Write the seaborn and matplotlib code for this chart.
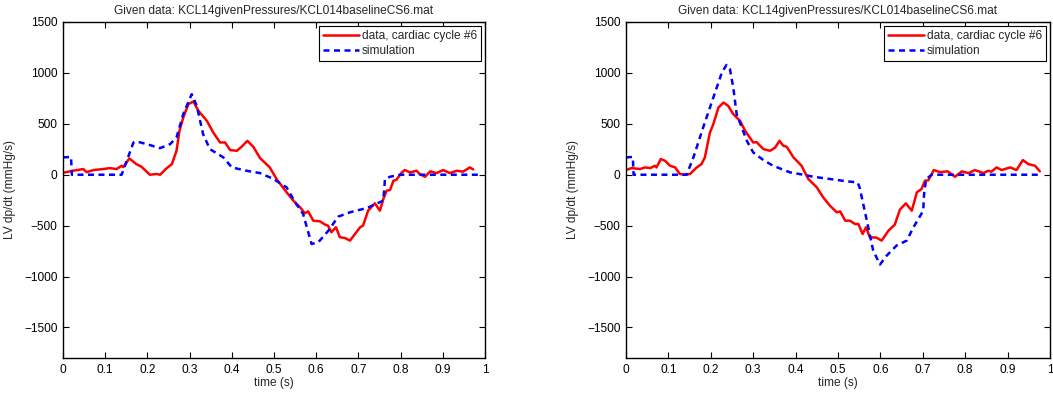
import numpy as np
import pandas as pd
import matplotlib
matplotlib.use("Agg")
import matplotlib.pyplot as plt
import seaborn as sns

title_text = "Given data: KCL14givenPressures/KCL014baselineCS6.mat"
data_label = "data, cardiac cycle #6"
sim_label = "simulation"
yticks = [-1500, -1000, -500, 0, 500, 1000, 1500]
xticks = [0, 0.1, 0.2, 0.3, 0.4, 0.5, 0.6, 0.7, 0.8, 0.9, 1]
xtick_labels = ["0", "0.1", "0.2", "0.3", "0.4", "0.5", "0.6", "0.7", "0.8", "0.9", "1"]

# left panel, measured dp/dt
left_data_t = [0.0, 0.005, 0.024, 0.048, 0.056, 0.072, 0.096, 0.111, 0.127, 0.139, 0.143,
               0.157, 0.174, 0.186, 0.206, 0.222, 0.23, 0.246, 0.258, 0.269, 0.276, 0.285,
               0.297, 0.309, 0.321, 0.341, 0.356, 0.372, 0.384, 0.396, 0.412, 0.423, 0.437,
               0.451, 0.467, 0.49, 0.506, 0.53, 0.546, 0.562, 0.573, 0.581, 0.593, 0.609,
               0.621, 0.628, 0.636, 0.647, 0.656, 0.668, 0.68, 0.692, 0.704, 0.711, 0.723,
               0.739, 0.751, 0.759, 0.767, 0.775, 0.783, 0.79, 0.803, 0.81, 0.822, 0.838,
               0.845, 0.858, 0.87, 0.885, 0.901, 0.917, 0.933, 0.948, 0.964, 0.972]
left_data_y = [20, 23, 39, 56, 25, 46, 56, 65, 56, 88, 75,
               160, 104, 78, 0, 7, 0, 65, 104, 235, 431, 562,
               693, 719, 627, 529, 415, 317, 317, 242, 235, 274, 333,
               274, 163, 72, -42, -173, -255, -320, -379, -360, -451, -458,
               -490, -500, -565, -516, -614, -621, -647, -582, -516, -500, -353,
               -281, -353, -239, -157, -150, -59, -50, 23, 46, 23, 39,
               7, -20, 33, 16, 46, 16, 39, 30, 72, 52]

# left panel, simulation
left_sim_t = [0.0, 0.019, 0.021, 0.139, 0.167, 0.174, 0.198, 0.23, 0.254, 0.269, 0.285,
              0.305, 0.317, 0.332, 0.348, 0.38, 0.4, 0.435, 0.467, 0.498, 0.53, 0.55,
              0.569, 0.589, 0.605, 0.629, 0.652, 0.68, 0.72, 0.759, 0.763, 0.775, 0.798, 0.983]
left_sim_y = [170, 175, 0, 0, 317, 327, 301, 261, 301, 366, 595,
              791, 676, 399, 252, 170, 72, 39, 16, -40, -125, -271,
              -386, -680, -663, -549, -412, -369, -327, -255, -42, -20, 0, 0]

# right panel, measured dp/dt
right_data_t = [0.0, 0.013, 0.033, 0.045, 0.057, 0.068, 0.072, 0.082, 0.092, 0.104, 0.116,
                0.127, 0.139, 0.151, 0.167, 0.178, 0.186, 0.198, 0.206, 0.218, 0.23, 0.241,
                0.253, 0.269, 0.281, 0.3, 0.308, 0.324, 0.34, 0.352, 0.362, 0.371, 0.379,
                0.395, 0.414, 0.43, 0.45, 0.465, 0.481, 0.497, 0.505, 0.517, 0.528, 0.54,
                0.548, 0.558, 0.566, 0.575, 0.591, 0.603, 0.619, 0.634, 0.646, 0.66, 0.674,
                0.686, 0.697, 0.705, 0.713, 0.726, 0.74, 0.759, 0.776, 0.792, 0.808, 0.823,
                0.843, 0.854, 0.862, 0.874, 0.886, 0.906, 0.921, 0.936, 0.949, 0.965, 0.976]
right_data_y = [46, 65, 56, 72, 65, 88, 72, 154, 137, 88, 72,
                7, 0, 7, 72, 104, 170, 415, 497, 660, 709, 676,
                595, 529, 431, 317, 320, 252, 235, 268, 333, 284, 275,
                170, 88, -42, -124, -222, -304, -369, -360, -451, -451, -484,
                -484, -582, -516, -614, -618, -647, -549, -490, -343, -281, -353,
                -173, -140, -59, -55, 46, 26, 33, -20, 33, 16, 46,
                16, 39, 30, 72, 46, 72, 46, 144, 104, 88, 33]

# right panel, simulation
right_sim_t = [0.0, 0.016, 0.018, 0.143, 0.159, 0.182, 0.206, 0.226, 0.237, 0.245, 0.253,
               0.261, 0.273, 0.285, 0.3, 0.324, 0.347, 0.387, 0.418, 0.442, 0.481, 0.521,
               0.546, 0.551, 0.568, 0.583, 0.599, 0.615, 0.638, 0.662, 0.678, 0.701, 0.703,
               0.708, 0.721, 0.976]
right_sim_y = [170, 175, 0, 0, 170, 464, 758, 1003, 1078, 1040, 856,
               595, 464, 333, 219, 144, 88, 23, 0, -20, -42, -65,
               -75, -124, -451, -745, -882, -794, -696, -647, -516, -353, -190,
               -42, 0, 0]

panels = [
    (left_data_t, left_data_y, left_sim_t, left_sim_y),
    (right_data_t, right_data_y, right_sim_t, right_sim_y),
]

sns.set_style("ticks")
plt.rcParams['font.family'] = ['Liberation Sans', 'DejaVu Sans']
fs = 8.6

W, H = 1053, 394
fig = plt.figure(figsize=(W / 100, H / 100), dpi=100)
boxes = [(63, 485), (626, 1050)]
top_px, bot_px = 22, 358

for (x0, x1), (dt, dy, st, sy) in zip(boxes, panels):
    ax = fig.add_axes([x0 / W, 1 - bot_px / H, (x1 - x0) / W, (bot_px - top_px) / H])
    df_data = pd.DataFrame({"t": dt, "y": dy})
    df_sim = pd.DataFrame({"t": st, "y": sy})
    sns.lineplot(data=df_data, x="t", y="y", ax=ax, color="#ff0000", linewidth=1.8,
                 label=data_label, sort=False, estimator=None)
    sns.lineplot(data=df_sim, x="t", y="y", ax=ax, color="#0000ff", linewidth=1.8,
                 label=sim_label, sort=False, estimator=None)
    ax.lines[1].set_dashes((2.4, 1.8))
    ax.set_xlim(0, 1)
    ax.set_ylim(-1800, 1500)
    ax.set_xticks(xticks)
    ax.set_xticklabels(xtick_labels)
    ax.set_yticks(yticks)
    ax.tick_params(direction="in", length=4, width=0.8, top=True, right=True,
                   labelsize=fs, colors="black", pad=4)
    for sp in ax.spines.values():
        sp.set_visible(True)
        sp.set_linewidth(1.0)
        sp.set_color("black")
    ax.set_xlabel("time (s)", fontsize=fs, labelpad=1)
    ax.set_ylabel("LV dp/dt (mmHg/s)", fontsize=fs, labelpad=6)
    ax.set_title(title_text, fontsize=fs, pad=6)
    leg = ax.legend(loc="upper right", fontsize=fs, frameon=True, fancybox=False,
                    edgecolor="black", framealpha=1, borderaxespad=0.3,
                    handlelength=3.0, handletextpad=0.3, borderpad=0.35,
                    labelspacing=0.25)
    leg.get_frame().set_linewidth(0.8)
    leg.get_lines()[1].set_dashes((2.4, 1.8))

fig.savefig("out.png", dpi=100)
